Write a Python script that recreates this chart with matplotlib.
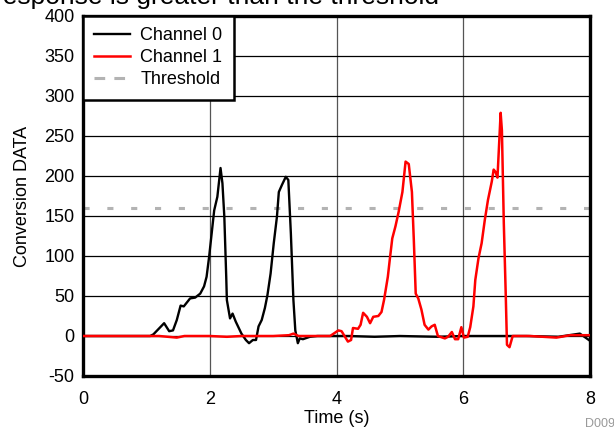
import matplotlib
matplotlib.use('Agg')
import matplotlib.pyplot as plt
from matplotlib.lines import Line2D

plt.rcParams['font.family'] = ['Liberation Sans', 'DejaVu Sans']
plt.rcParams['axes.unicode_minus'] = False

# channel 0 (black)
t0 = [0.0, 0.5, 1.06, 1.11, 1.28, 1.36, 1.42, 1.48, 1.54, 1.59, 1.69, 1.77, 1.85, 1.91,
      1.95, 1.99, 2.03, 2.07, 2.12, 2.17, 2.20, 2.23, 2.26, 2.27, 2.32, 2.36, 2.41,
      2.50, 2.57, 2.62, 2.68, 2.73, 2.77, 2.82, 2.87, 2.91, 2.96, 3.01, 3.06, 3.09,
      3.14, 3.20, 3.24, 3.28, 3.32, 3.35, 3.39, 3.42, 3.47, 3.58, 3.70, 4.2, 4.6,
      5.0, 5.6, 6.0, 6.4, 7.0, 7.5, 7.84, 8.0]
v0 = [0, 0, 0, 2, 16, 6, 7, 20, 38, 37, 47, 48, 53, 62,
      74, 99, 128, 157, 174, 210, 191, 149, 74, 45, 22, 28, 18,
      3, -5, -9, -5, -5, 12, 20, 35, 51, 78, 116, 149, 180,
      189, 199, 195, 128, 45, 7, -9, -3, -4, -1, 0, 0, -1,
      0, -1, 0, 0, 0, -1, 3, -6]

# channel 1 (red)
t1 = [0.0, 0.6, 1.2, 1.48, 1.6, 2.0, 2.27, 2.5, 3.0, 3.25, 3.32, 3.4, 3.6, 3.90,
      4.03, 4.08, 4.18, 4.23, 4.26, 4.34, 4.38, 4.42, 4.48, 4.53, 4.58, 4.66, 4.71,
      4.75, 4.81, 4.84, 4.88, 4.93, 4.98, 5.04, 5.09, 5.14, 5.19, 5.22, 5.25, 5.29,
      5.34, 5.39, 5.45, 5.50, 5.55, 5.60, 5.71, 5.76, 5.82, 5.87, 5.92, 5.97, 6.01,
      6.07, 6.11, 6.16, 6.19, 6.24, 6.29, 6.34, 6.39, 6.45, 6.48, 6.51, 6.54, 6.59,
      6.61, 6.64, 6.67, 6.69, 6.73, 6.78, 7.05, 7.47, 7.69, 8.0]
v1 = [0, 0, 0, -2, 0, 0, -1, 0, 0, 1, 3, 0, 0, 0,
      7, 6, -7, -5, 10, 9, 14, 29, 24, 16, 24, 25, 30,
      45, 74, 95, 122, 137, 155, 180, 218, 215, 180, 120, 53, 47,
      33, 14, 8, 12, 14, 0, -3, -1, 5, -4, -4, 11, -2,
      -1, 11, 37, 70, 97, 116, 145, 170, 193, 208, 205, 198, 279,
      257, 141, 53, -11, -14, 0, 0, -2, 1, 1]

threshold = 160
labels = ['Channel 0', 'Channel 1', 'Threshold']

fig = plt.figure(figsize=(6.14, 4.32), dpi=100)
ax = fig.add_axes([83 / 614, 1 - 376 / 432, (590 - 83) / 614, (376 - 16) / 432])

# title cut off at the top edge
fig.text(-0.01, 1 - 4 / 432, 'response is greater than the threshold', fontsize=19,
         va='baseline', ha='left', color='black')

l0, = ax.plot(t0, v0, color='black', lw=1.7, zorder=3)
l1, = ax.plot(t1, v1, color='#ff0000', lw=1.8, zorder=4)
ax.axhline(threshold, color='#b3b3b3', lw=2.2, ls=(0, (2.0, 5.8)), zorder=2)

ax.set_xlim(0, 8)
ax.set_ylim(-50, 400)
ax.set_xticks([0, 2, 4, 6, 8])
ax.set_yticks(range(-50, 401, 50))
ax.tick_params(length=0, labelsize=13)
ax.tick_params(axis='x', pad=11)
ax.tick_params(axis='y', pad=6)
ax.yaxis.grid(True, color='black', lw=0.9)
ax.xaxis.grid(True, color='#555555', lw=0.9)
ax.set_axisbelow(True)
for s in ax.spines.values():
    s.set_linewidth(2.4)

ax.set_xlabel('Time (s)', fontsize=13, labelpad=1)
ax.set_ylabel('Conversion DATA', fontsize=13, labelpad=10)

thr_handle = Line2D([], [], color='#b3b3b3', lw=2.2, ls=(0, (3.5, 3.0)))
leg = ax.legend([l0, l1, thr_handle], labels, loc='upper left', fontsize=13,
                borderaxespad=0, fancybox=False, framealpha=1, edgecolor='black',
                handlelength=2.0, handletextpad=0.55, borderpad=0.62,
                labelspacing=0.28)
leg.get_frame().set_linewidth(1.8)
leg.set_zorder(6)

fig.text(0.952, 0.005, 'D009', fontsize=9, color='#999999', ha='left', va='bottom')

fig.savefig('out.png', dpi=100)
